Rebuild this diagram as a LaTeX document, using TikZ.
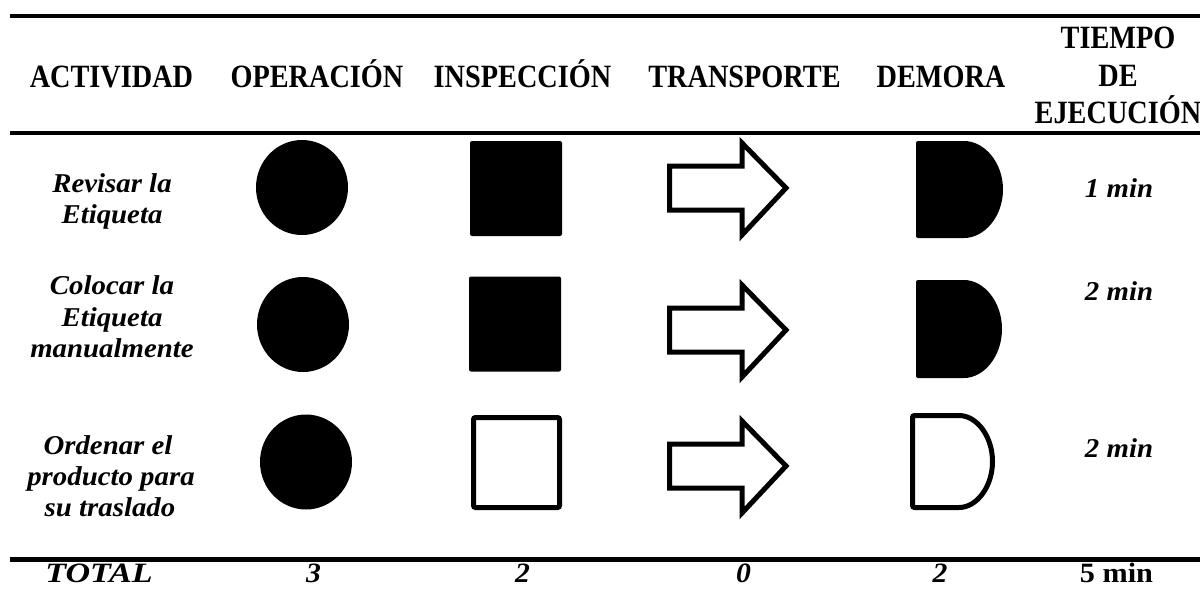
\documentclass[tikz,border=0pt]{standalone}
\usepackage{fontspec}
\usepackage{graphicx}
\usetikzlibrary{shapes.geometric}
\newfontfamily\hdfont{Liberation Serif}[FakeStretch=0.87]
\newfontfamily\itfont{Liberation Serif}[FakeStretch=1.06]
\newfontfamily\upfont{Liberation Serif}
\tikzset{
  hdr/.style={font=\hdfont\bfseries\fontsize{32.5}{37.5}\selectfont, anchor=base, inner sep=0pt},
  body/.style={font=\itfont\bfseries\itshape\fontsize{27.2}{31}\selectfont, anchor=base, inner sep=0pt},
  tot/.style={font=\itfont\bfseries\itshape\fontsize{28}{32}\selectfont, anchor=base, inner sep=0pt},
  totup/.style={font=\upfont\bfseries\fontsize{28}{32}\selectfont, anchor=base, inner sep=0pt},
  rulethick/.style={line width=4pt},
  opshape/.style={ellipse, fill=black, minimum width=92pt, minimum height=95pt, inner sep=0pt},
  insfill/.style={rectangle, fill=black, rounded corners=2pt, minimum width=92pt, minimum height=95pt, inner sep=0pt},
  insopen/.style={rectangle, draw=black, line width=5pt, rounded corners=2pt, minimum width=86pt, minimum height=90pt, inner sep=0pt},
  arrowline/.style={draw=black, line width=5pt, line join=miter, fill=white},
  demfill/.style={fill=black, rounded corners=2pt},
  demopen/.style={draw=black, line width=5pt, rounded corners=2pt}
}
\begin{document}
\begin{tikzpicture}[x=1pt, y=-1pt]
\useasboundingbox (0,0) rectangle (1200,589);
% rules
\draw[rulethick] (10,16) -- (1200,16);
\draw[rulethick] (10,133) -- (1200,133);
\draw[line width=5pt] (10,559.5) -- (1200,559.5);
% header
\node[hdr] (hA) at (111.5,87) {ACTIVIDAD};
\node[hdr] (hO) at (317,87) {OPERACIÓN};
\node[hdr] (hI) at (522.5,87) {INSPECCIÓN};
\node[hdr] (hT) at (744.5,87) {TRANSPORTE};
\node[hdr] (hD) at (941,87) {DEMORA};
\node[hdr] (hE1) at (1118,48) {TIEMPO};
\node[hdr] (hE2) at (1118,86) {DE};
\node[hdr] (hE3) at (1118,123) {EJECUCIÓN};
% row labels
\node[body] (r1a) at (112,192) {Revisar la};
\node[body] (r1b) at (112,223) {Etiqueta};
\node[body] (r2a) at (112,294) {Colocar la};
\node[body] (r2b) at (112,326) {Etiqueta};
\node[body] (r2c) at (112,357) {manualmente};
\node[body] (r3a) at (108,454) {Ordenar el};
\node[body] (r3b) at (111,485) {producto para};
\node[body] (r3c) at (110,516) {su traslado};
% times
\node[body] (t1) at (1119,197) {1 min};
\node[body] (t2) at (1119,300) {2 min};
\node[body] (t3) at (1119,457) {2 min};
% operation circles
\node[opshape] (op1) at (302,187.5) {};
\node[opshape] (op2) at (303,324.5) {};
\node[opshape] (op3) at (306,462) {};
% inspection squares
\node[insfill] (in1) at (516,188.5) {};
\node[insfill] (in2) at (515,324) {};
\node[insopen] (in3) at (516.5,462.5) {};
% transport arrows
\foreach \yc/\n in {188/1,330/2,466/3}{
  \draw[arrowline] (669.5,\yc-22) -- (742,\yc-22) -- (742,\yc-45) -- (786,\yc)
     -- (742,\yc+47) -- (742,\yc+22) -- (669.5,\yc+22) -- cycle;
}
% delay shapes
\fill[demfill] (916,141) -- (962,141) arc[start angle=-90, end angle=90, x radius=41, y radius=48.5] -- (916,238) -- cycle;
\fill[demfill] (916,280) -- (962,280) arc[start angle=-90, end angle=90, x radius=40, y radius=49] -- (916,378) -- cycle;
\draw[demopen] (912.5,415.5) -- (957,415.5) arc[start angle=-90, end angle=90, x radius=35.5, y radius=46] -- (912.5,507.5) -- cycle;
% totals
\node[tot] (s0) at (99,582) {\scalebox{1.15}[1]{TOTAL}};
\node[tot] (s1) at (313.5,582) {3};
\node[tot] (s2) at (522.5,582) {2};
\node[tot] (s3) at (743.5,582) {0};
\node[tot] (s4) at (940,582) {2};
\node[totup] (s5) at (1116.5,582) {\scalebox{1.08}[1]{5 min}};
\end{tikzpicture}
\end{document}
